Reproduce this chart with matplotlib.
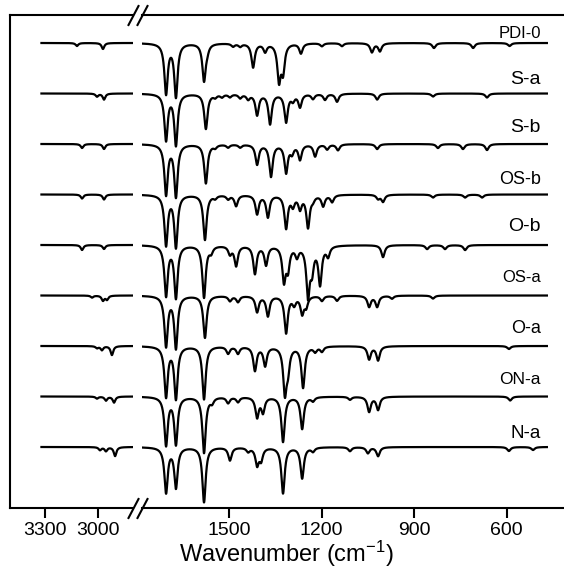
import numpy as np
import matplotlib
matplotlib.use("Agg")
import matplotlib.pyplot as plt
from matplotlib.lines import Line2D

plt.rcParams['font.family'] = ['Liberation Sans', 'DejaVu Sans']
plt.rcParams['mathtext.fontset'] = 'custom'
plt.rcParams['mathtext.rm'] = 'Liberation Sans'
plt.rcParams['mathtext.default'] = 'regular'

# sample names, top to bottom
labels = ['PDI-0', 'S-a', 'S-b', 'OS-b', 'O-b', 'OS-a', 'O-a', 'ON-a', 'N-a']

# absorption bands: (wavenumber cm-1, depth)
# high wavenumber region (C-H stretch)
ch_PDI0 = [(3118, 3), (2970, 6)]
ch_Sa = [(3004, 3), (2964, 6)]
ch_Sb = [(3089, 4), (2964, 5)]
ch_OSb = [(3089, 4), (2964, 5)]
ch_Ob = [(3089, 5), (2964, 4)]
ch_OSa = [(3032, 2), (2970, 5), (2947, 4)]
ch_Oa = [(3004, 2), (2976, 4), (2919, 9)]
ch_ONa = [(3004, 2), (2953, 4), (2907, 6)]
ch_Na = [(2987, 3), (2953, 4), (2901, 9)]

# fingerprint region
fp_PDI0 = [(1704, 50), (1672, 53), (1581, 37), (1571, 5), (1487, 3), (1464, 3),
           (1422, 24), (1383, 8), (1338, 36), (1325, 27), (1267, 10), (1199, 3),
           (1134, 3), (1037, 9), (1011, 8), (836, 5), (709, 5), (591, 3)]
fp_Sa = [(1704, 46), (1672, 51), (1575, 35), (1545, 3), (1523, 3), (1497, 3),
         (1464, 4), (1438, 5), (1409, 21), (1367, 30), (1315, 28), (1293, 6),
         (1270, 13), (1228, 5), (1189, 6), (1150, 8), (1020, 6), (839, 3), (664, 4)]
fp_Sb = [(1704, 50), (1672, 52), (1575, 39), (1545, 3), (1503, 3), (1464, 3),
         (1409, 20), (1364, 32), (1315, 28), (1296, 8), (1270, 15), (1221, 12),
         (1182, 5), (1147, 6), (1020, 5), (823, 4), (742, 5), (664, 6)]
fp_OSb = [(1704, 50), (1672, 52), (1578, 45), (1545, 3), (1503, 4), (1477, 11),
          (1409, 19), (1374, 22), (1315, 33), (1293, 10), (1270, 13), (1244, 32),
          (1228, 4), (1195, 11), (1166, 7), (1017, 4), (1001, 7), (839, 3),
          (735, 3), (680, 3)]
fp_Ob = [(1704, 50), (1672, 52), (1581, 52), (1558, 6), (1497, 8), (1477, 20),
         (1416, 28), (1380, 19), (1322, 34), (1309, 22), (1280, 10), (1244, 49),
         (1231, 22), (1205, 38), (1179, 10), (1001, 12), (858, 4), (800, 4), (735, 5)]
fp_OSa = [(1704, 50), (1672, 52), (1578, 42), (1497, 5), (1471, 6), (1409, 16),
          (1374, 20), (1315, 37), (1289, 8), (1263, 17), (1250, 10), (1199, 5),
          (1150, 5), (1046, 11), (1020, 11), (972, 3), (839, 3)]
fp_Oa = [(1704, 50), (1672, 52), (1581, 53), (1503, 7), (1471, 7), (1416, 24),
         (1383, 19), (1319, 45), (1309, 20), (1260, 41), (1221, 5), (1199, 5),
         (1046, 13), (1017, 14), (593, 3)]
fp_ONa = [(1704, 48), (1672, 47), (1581, 56), (1555, 5), (1503, 6), (1471, 5),
          (1409, 20), (1390, 15), (1325, 45), (1263, 32), (1228, 4), (1108, 3),
          (1046, 15), (1017, 13), (589, 4)]
fp_Na = [(1704, 45), (1672, 40), (1581, 55), (1497, 13), (1438, 4), (1409, 17),
         (1396, 12), (1325, 46), (1263, 31), (1228, 4), (1108, 4), (1050, 6),
         (1017, 9), (593, 4), (515, 3)]

ch_bands = [ch_PDI0, ch_Sa, ch_Sb, ch_OSb, ch_Ob, ch_OSa, ch_Oa, ch_ONa, ch_Na]
fp_bands = [fp_PDI0, fp_Sa, fp_Sb, fp_OSb, fp_Ob, fp_OSa, fp_Oa, fp_ONa, fp_Na]

left_ticks = [3300, 3000]
right_ticks = [1500, 1200, 900, 600]


def spectrum(x, bands, w):
    y = np.zeros_like(x)
    for c, d in bands:
        y -= d / (1 + ((x - c) / w) ** 2)
    return y


W, H = 564, 570
fig = plt.figure(figsize=(5.64, 5.70), dpi=100)
y0 = 1 - 508 / H
hh = (508 - 15) / H
axL = fig.add_axes([10 / W, y0, (133 - 10) / W, hh])
axR = fig.add_axes([142 / W, y0, (W - 142) / W, hh])

xL = np.linspace(3320, 2800, 800)
xR = np.linspace(1780, 470, 3000)

step = 50.5
top = 465
label_gap = [5, 9, 12, 10, 14, 14, 13, 12, 9]
label_size = [12, 14, 14, 13, 14, 12, 13, 12.5, 13.5]

for i, name in enumerate(labels):
    off = top - i * step
    axL.plot(xL, off + spectrum(xL, ch_bands[i], 9), color='black', lw=1.6)
    axR.plot(xR, off + spectrum(xR, fp_bands[i], 6.5), color='black', lw=1.6)
    axR.text(490, off + label_gap[i], name, ha='right', va='baseline',
             fontsize=label_size[i])

axL.set_xlim(3499, 2799)
axR.set_xlim(1782, 414.5)
for ax in (axL, axR):
    ax.set_ylim(0, 493)
    ax.set_yticks([])
    ax.spines['right'].set_visible(False)
    for s in ax.spines.values():
        s.set_linewidth(1.5)
    ax.tick_params(axis='x', direction='out', length=7, width=1.5,
                   labelsize=14, pad=3)
axR.spines['left'].set_visible(False)
axL.set_xticks(left_ticks)
axR.set_xticks(right_ticks)

# break marks
for ypx in (15, 508):
    for x1, x2 in ((128.5, 138.5), (137.5, 147.5)):
        fig.add_artist(Line2D([x1 / W, x2 / W],
                              [1 - (ypx + 10) / H, 1 - (ypx - 9) / H],
                              color='black', lw=1.5))

fig.text(0.508, 1 - 562 / H, 'Wavenumber (cm$^{-1}$)', ha='center',
         va='baseline', fontsize=17)

fig.savefig('out.png', dpi=100)
